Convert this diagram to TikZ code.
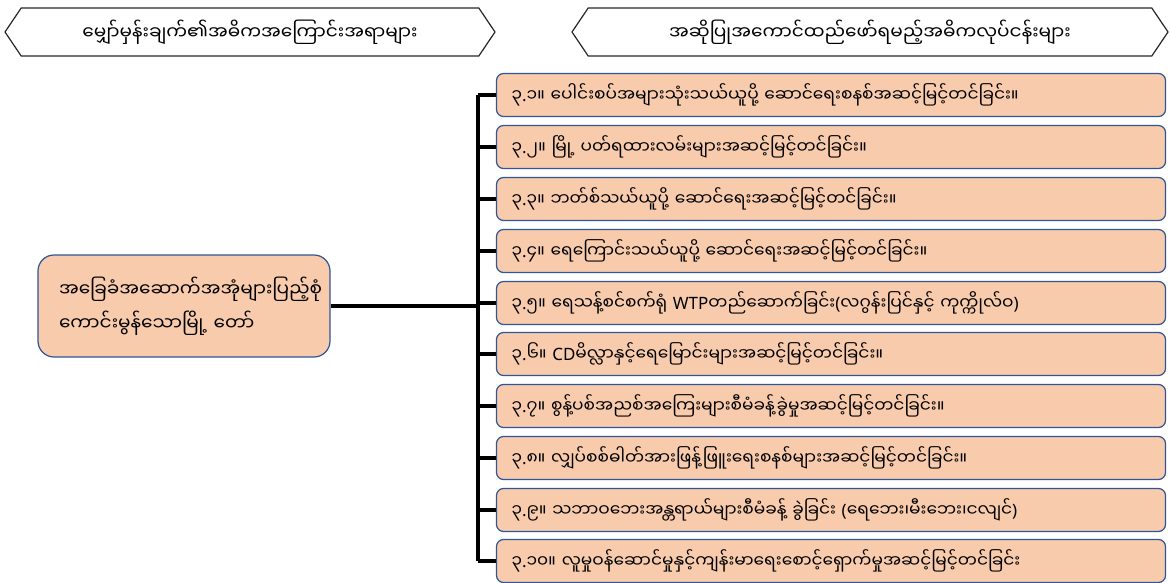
\documentclass[tikz,border=0pt]{standalone}
\usepackage{fontspec}
\newfontfamily\mmfont[Script=Myanmar]{Noto Sans Myanmar UI}
\newfontfamily\latfont{Noto Sans}
\newcommand\pd{{\latfont.}}
\usetikzlibrary{shapes.symbols}
\definecolor{peach}{HTML}{F8CBAD}
\definecolor{boxblue}{HTML}{2F5597}
\definecolor{hdrgrey}{HTML}{262626}
\begin{document}
\begin{tikzpicture}
  [x=1pt,y=-1pt,
   every node/.style={font=\mmfont\fontsize{17}{26}\selectfont},
   hdr/.style={draw=hdrgrey,line width=1.2pt,signal,signal to=west and east,
     signal pointer angle=112,minimum height=48pt,inner sep=0pt,
     font=\mmfont\fontsize{18.5}{26}\selectfont},
   goal/.style={draw=boxblue,fill=peach,line width=1.2pt,rounded corners=16pt,
     minimum width=292pt,minimum height=102pt,text width=250pt,align=left,
     font=\mmfont\fontsize{18.5}{34}\selectfont},
   item/.style={draw=boxblue,fill=peach,line width=1.2pt,rounded corners=7pt,
     minimum height=43pt,text width=639pt,inner xsep=15pt,align=left},
   conn/.style={line width=3.4pt}]
  \useasboundingbox (0,0) rectangle (1170,583);
  % headers
  \node[hdr,minimum width=490pt] (hleft) at (250,32) {မျှော်မှန်းချက်၏အဓိကအကြောင်းအရာများ};
  \node[hdr,minimum width=596pt] (hright) at (870,32) {အဆိုပြုအကောင်ထည်ဖော်ရမည့်အဓိကလုပ်ငန်းများ};
  % main goal
  \node[goal] (goal) at (184,306) {အခြေခံအဆောက်အအုံများပြည့်စုံ\\ကောင်းမွန်သောမြို့ တော်};
  % tasks
  \foreach \i/\y/\txt in {
    1/95/{၃\pd၁။ ပေါင်းစပ်အများသုံးသယ်ယူပို့ ဆောင်ရေးစနစ်အဆင့်မြင့်တင်ခြင်း။},
    2/147/{၃\pd၂။ မြို့ ပတ်ရထားလမ်းများအဆင့်မြင့်တင်ခြင်း။},
    3/199/{၃\pd၃။ ဘတ်စ်သယ်ယူပို့ ဆောင်ရေးအဆင့်မြင့်တင်ခြင်း။},
    4/251/{၃\pd၄။ ရေကြောင်းသယ်ယူပို့ ဆောင်ရေးအဆင့်မြင့်တင်ခြင်း။},
    5/303/{၃\pd၅။ ရေသန့်စင်စက်ရုံ {\latfont WTP}တည်ဆောက်ခြင်း{\latfont(}လဂွန်းပြင်နှင့် ကုက္ကိုလ်ဝ{\latfont)}},
    6/354/{၃\pd၆။ {\latfont CD}မိလ္လာနှင့်ရေမြောင်းများအဆင့်မြင့်တင်ခြင်း။},
    7/406/{၃\pd၇။ စွန့်ပစ်အညစ်အကြေးများစီမံခန့်ခွဲမှုအဆင့်မြင့်တင်ခြင်း။},
    8/458/{၃\pd၈။ လျှပ်စစ်ဓါတ်အားဖြန့်ဖြူးရေးစနစ်များအဆင့်မြင့်တင်ခြင်း။},
    9/510/{၃\pd၉။ သဘာဝဘေးအန္တရာယ်များစီမံခန့် ခွဲခြင်း {\latfont(}ရေဘေး၊မီးဘေး၊ငလျင်{\latfont)}},
    10/561/{၃\pd၁၀။ လူမှုဝန်ဆောင်မှုနှင့်ကျန်းမာရေးစောင့်ရှောက်မှုအဆင့်မြင့်တင်ခြင်း}}
    \node[item] (i\i) at (831,\y) {\txt};
  % connectors
  \coordinate (bartop) at (478,95);
  \draw[conn] (goal.east) -- (goal.east -| bartop);
  \draw[conn] (bartop) -- (bartop |- i10.west);
  \foreach \i in {1,...,10}
    \draw[conn] (bartop |- i\i.west) -- (i\i.west);
\end{tikzpicture}
\end{document}
